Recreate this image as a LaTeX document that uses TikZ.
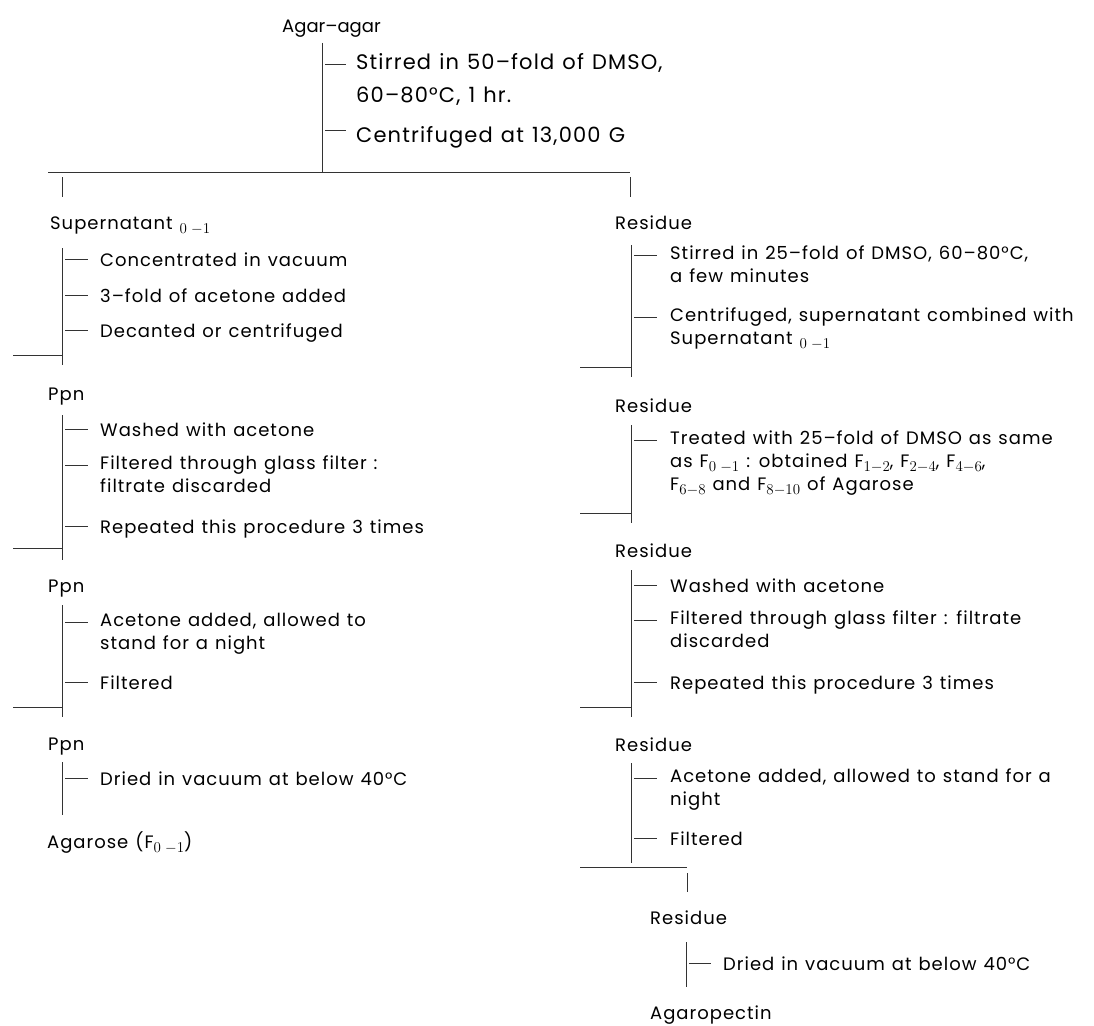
\RequirePackage{fix-cm}
\documentclass[tikz,border=0pt]{standalone}
\usepackage{fontspec}
\setmainfont{Poppins}[LetterSpace=5.5, WordSpace=1.2]
\newcommand{\stepfont}{\fontsize{18}{23}\selectfont}
\newcommand{\topfont}{\fontsize{21}{33}\selectfont}
\newcommand{\sbs}[1]{\raisebox{-4pt}{\fontsize{15}{15}\selectfont$#1$}}
\begin{document}
\begin{tikzpicture}[x=1pt,y=-1pt,
  txt/.style={inner sep=0pt, anchor=north west, align=left, font=\stepfont, execute at begin node=\strut},
  toptxt/.style={txt, font=\topfont},
  ln/.style={line width=0.8pt, draw=black!80}]
\fill[white] (0,0) rectangle (1094,1025);
\useasboundingbox (0,0) rectangle (1094,1025);

% ---------- top ----------
\node[txt] (agar) at (282,16) {\addfontfeature{LetterSpace=0}Agar--agar};
\coordinate (v0t) at (322,43);
\coordinate (v0b) at (322,172);
\draw[ln] (v0t) -- (v0b);
\node[toptxt] (t1) at (356,53) {Stirred in 50--fold of DMSO,\\60--80°C, 1 hr.};
\node[toptxt] (t2) at (356,119) {Centrifuged at 13,000 G};
\draw[ln] (325,64) -- (346,64);
\draw[ln] (325,130) -- (346,130);
\coordinate (hL) at (48,172);
\coordinate (hR) at (630,172);
\draw[ln] (hL) -- (hR);
\draw[ln] (62,177) -- (62,197);
\draw[ln] (630,177) -- (630,197);

% ---------- left column ----------
\node[txt] (sup) at (50,213) {Supernatant \sbs{0\;{-}1}};
\draw[ln] (62,248) -- (62,365);
\node[txt] (l1a) at (100,250) {Concentrated in vacuum};
\node[txt] (l1b) at (100,286) {3--fold of acetone added};
\node[txt] (l1c) at (100,321) {Decanted or centrifuged};
\draw[ln] (65,259) -- (88,259);
\draw[ln] (65,295) -- (88,295);
\draw[ln] (65,330) -- (88,330);
\draw[ln] (13,355) -- (62,355);

\node[txt] (ppn1) at (48,384) {Ppn};
\draw[ln] (62,415) -- (62,560);
\node[txt] (l2a) at (100,420) {Washed with acetone};
\node[txt] (l2b) at (100,456) {Filtered through glass filter :\\filtrate discarded};
\node[txt] (l2c) at (100,517) {Repeated this procedure 3 times};
\draw[ln] (65,429) -- (88,429);
\draw[ln] (65,465) -- (88,465);
\draw[ln] (65,526) -- (88,526);
\draw[ln] (13,548) -- (62,548);

\node[txt] (ppn2) at (48,576) {Ppn};
\draw[ln] (62,605) -- (62,717);
\node[txt] (l3a) at (100,613) {Acetone added, allowed to\\stand for a night};
\node[txt] (l3b) at (100,673) {Filtered};
\draw[ln] (65,622) -- (88,622);
\draw[ln] (65,682) -- (88,682);
\draw[ln] (13,707) -- (62,707);

\node[txt] (ppn3) at (48,734) {Ppn};
\draw[ln] (62,762) -- (62,815);
\node[txt] (l4a) at (100,769) {Dried in vacuum at below 40°C};
\draw[ln] (65,778) -- (88,778);
\node[txt] (agarose) at (47,831) {Agarose (F\sbs{0\;{-}1})};

% ---------- right column ----------
\node[txt] (res1) at (615,213) {Residue};
\draw[ln] (631,245) -- (631,377);
\node[txt] (r1a) at (670,246) {Stirred in 25--fold of DMSO, 60--80°C,\\a few minutes};
\node[txt] (r1b) at (670,308) {Centrifuged, supernatant combined with\\Supernatant \sbs{0\;{-}1}};
\draw[ln] (634,255) -- (657,255);
\draw[ln] (634,317) -- (657,317);
\draw[ln] (580,367) -- (631,367);

\node[txt] (res2) at (615,396) {Residue};
\draw[ln] (631,425) -- (631,523);
\node[txt] (r2a) at (670,431) {Treated with 25--fold of DMSO as same\\as F\sbs{0\;{-}1} : obtained F\sbs{1{-}2}, F\sbs{2{-}4}, F\sbs{4{-}6},\\F\sbs{6{-}8} and F\sbs{8{-}10} of Agarose};
\draw[ln] (634,440) -- (657,440);
\draw[ln] (580,513) -- (631,513);

\node[txt] (res3) at (615,541) {Residue};
\draw[ln] (631,570) -- (631,717);
\node[txt] (r3a) at (670,576) {Washed with acetone};
\node[txt] (r3b) at (670,611) {Filtered through glass filter : filtrate\\discarded};
\node[txt] (r3c) at (670,673) {Repeated this procedure 3 times};
\draw[ln] (634,585) -- (657,585);
\draw[ln] (634,620) -- (657,620);
\draw[ln] (634,682) -- (657,682);
\draw[ln] (580,707) -- (631,707);

\node[txt] (res4) at (615,735) {Residue};
\draw[ln] (631,763) -- (631,863);
\node[txt] (r4a) at (670,769) {Acetone added, allowed to stand for a\\night};
\node[txt] (r4b) at (670,829) {Filtered};
\draw[ln] (634,778) -- (657,778);
\draw[ln] (634,838) -- (657,838);
\draw[ln] (580,867) -- (687,867);
\draw[ln] (687,873) -- (687,892);

\node[txt] (res5) at (650,908) {Residue};
\draw[ln] (686,942) -- (686,987);
\node[txt] (r5a) at (723,954) {Dried in vacuum at below 40°C};
\draw[ln] (689,963) -- (711,963);
\node[txt] (agaropectin) at (650,1003) {Agaropectin};
\end{tikzpicture}
\end{document}
